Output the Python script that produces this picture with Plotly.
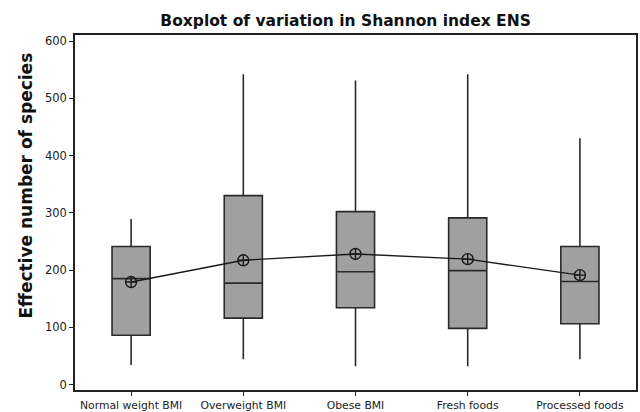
import plotly.graph_objects as go

categories = ["Normal weight BMI", "Overweight BMI", "Obese BMI", "Fresh foods", "Processed foods"]
lower_whisker = [34, 44, 32, 32, 44]
q1_vals = [86, 116, 134, 98, 106]
median_vals = [185, 177, 197, 199, 180]
q3_vals = [241, 330, 302, 291, 241]
upper_whisker = [289, 542, 531, 542, 430]
mean_vals = [179, 217, 228, 219, 191]
y_ticks = [0, 100, 200, 300, 400, 500, 600]

fig = go.Figure()
fig.add_trace(go.Box(
    x=categories,
    q1=q1_vals, median=median_vals, q3=q3_vals,
    lowerfence=lower_whisker, upperfence=upper_whisker,
    fillcolor="#a0a0a0",
    line=dict(color="#2a2a2a", width=1.6),
    whiskerwidth=0,
    width=0.34,
    boxpoints=False,
    hoverinfo="skip",
    showlegend=False,
))
fig.add_trace(go.Scatter(
    x=categories, y=mean_vals,
    mode="lines+markers",
    line=dict(color="#1a1a1a", width=1.4),
    marker=dict(symbol="circle-cross-open", size=11, color="#1a1a1a", line=dict(width=1.4, color="#1a1a1a")),
    showlegend=False,
))

fig.update_layout(
    width=640, height=412,
    margin=dict(l=75, r=4, t=35, b=22, autoexpand=False),
    paper_bgcolor="white", plot_bgcolor="white",
    font=dict(family="DejaVu Sans", color="#1a1a1a"),
    title=dict(text="<b>Boxplot of variation in Shannon index ENS</b>",
               x=0.54, xanchor="center", y=0.95, yanchor="middle",
               font=dict(size=15.5, family="DejaVu Sans", color="#111")),
    xaxis=dict(
        range=[-0.5, 4.5], showgrid=False, zeroline=False,
        showline=True, linecolor="#222", linewidth=1.6, mirror=True,
        ticks="outside", ticklen=4, tickcolor="#222", tickwidth=1.4,
        tickfont=dict(size=10.8, color="#222"),
        automargin=False,
    ),
    yaxis=dict(
        range=[-9.6, 610.5], tickvals=y_ticks, showgrid=False, zeroline=False,
        showline=True, linecolor="#222", linewidth=1.6, mirror=True,
        ticks="outside", ticklen=4, tickcolor="#222", tickwidth=1.4,
        tickfont=dict(size=11.5, color="#222"),
        automargin=False,
    ),
    annotations=[dict(
        text="<b>Effective number of species</b>", textangle=-90,
        xref="paper", yref="paper", x=-0.088, y=0.575,
        xanchor="center", yanchor="middle", showarrow=False,
        font=dict(size=17, family="DejaVu Sans", color="#111"),
    )],
)

fig.write_html("out.html", config={"displayModeBar": False},
               post_script="document.body.style.margin='0px';")
